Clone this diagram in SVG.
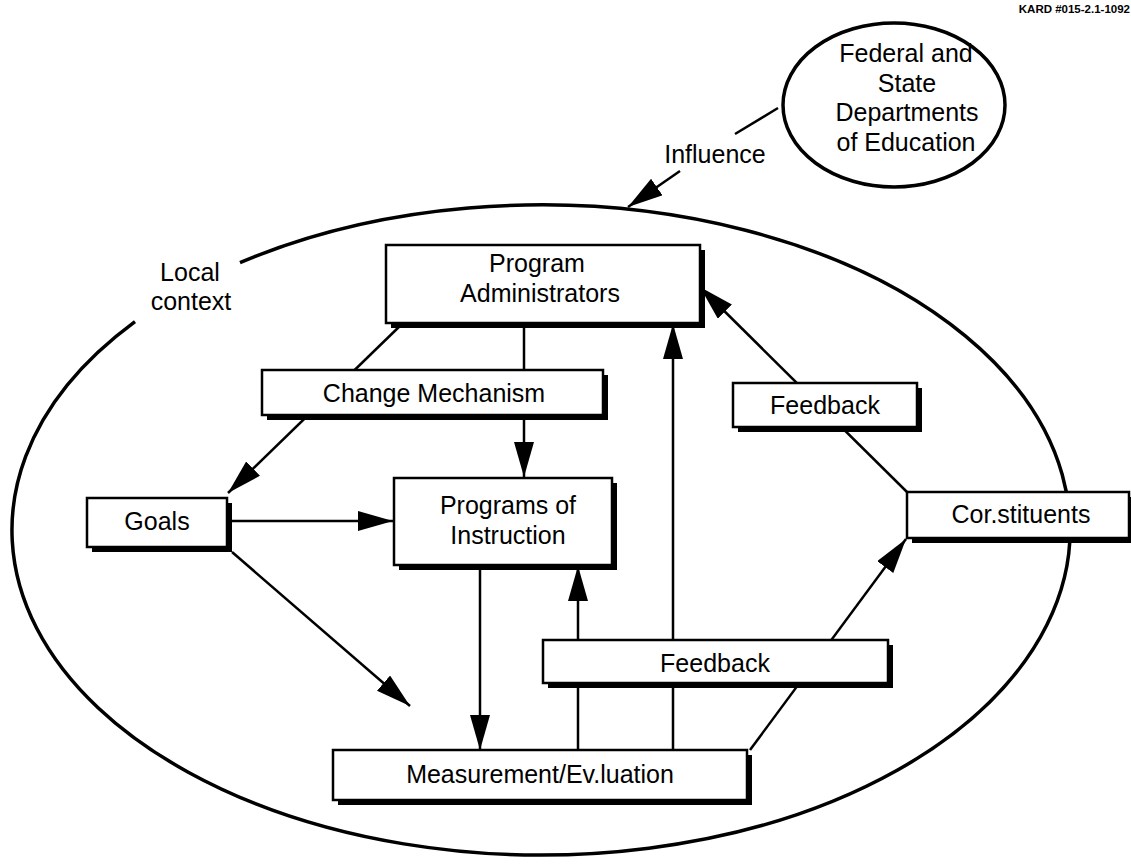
<svg xmlns="http://www.w3.org/2000/svg" width="1131" height="868" viewBox="0 0 1131 868">
<defs>
<style>
.t{font-family:"Liberation Sans",Arial,sans-serif;font-size:25px;fill:#000;text-anchor:middle}
.ln{stroke:#000;stroke-width:2.5;fill:none}
.bx{fill:#fff;stroke:#000;stroke-width:2.5}
.sh{fill:#000}
.ctx{stroke:#000;stroke-width:3.5;fill:none}
</style>
<marker id="ah" markerUnits="userSpaceOnUse" markerWidth="36" markerHeight="22" refX="35" refY="10" orient="auto">
<path d="M0,0 L35,10 L0,20 z" fill="#000"/>
</marker>
</defs>
<rect width="1131" height="868" fill="#fff"/>
<text x="1130" y="13" style="font-family:'Liberation Sans',Arial,sans-serif;font-size:11.5px;font-weight:bold;text-anchor:end">KARD #015-2.1-1092</text>

<g id="local-context">
<path class="ctx" d="M240,262.7 A529,325 0 1 1 135,321.6"/>
<text class="t" x="190" y="281">Local</text>
<text class="t" x="191" y="310">context</text>
</g>

<g id="federal-state">
<ellipse class="ctx" cx="894" cy="105" rx="111" ry="82"/>
<text class="t" x="906" y="62">Federal and</text>
<text class="t" x="907" y="92">State</text>
<text class="t" x="907" y="121">Departments</text>
<text class="t" x="906" y="151">of Education</text>
</g>

<g id="connectors">
<line class="ln" x1="778" y1="108" x2="735" y2="134"/>
<line class="ln" x1="680" y1="171" x2="628" y2="207" marker-end="url(#ah)"/>
<line class="ln" x1="403" y1="323" x2="228" y2="493" marker-end="url(#ah)"/>
<line class="ln" x1="524" y1="323" x2="524" y2="477" marker-end="url(#ah)"/>
<line class="ln" x1="229" y1="521" x2="393" y2="521" marker-end="url(#ah)"/>
<line class="ln" x1="232" y1="552" x2="410" y2="706" marker-end="url(#ah)"/>
<line class="ln" x1="480" y1="565" x2="480" y2="750" marker-end="url(#ah)"/>
<line class="ln" x1="578" y1="750" x2="578" y2="566" marker-end="url(#ah)"/>
<line class="ln" x1="673" y1="750" x2="673" y2="324" marker-end="url(#ah)"/>
<line class="ln" x1="750" y1="750" x2="906" y2="539" marker-end="url(#ah)"/>
<line class="ln" x1="907" y1="492" x2="700" y2="287" marker-end="url(#ah)"/>
<text class="t" x="715" y="163">Influence</text>
</g>

<g id="program-administrators">
<rect class="sh" x="391" y="250" width="314" height="78"/>
<rect class="bx" x="386" y="245" width="314" height="78"/>
<text class="t" x="537" y="272">Program</text>
<text class="t" x="540" y="302">Administrators</text>
</g>

<g id="change-mechanism">
<rect class="sh" x="267" y="375" width="341" height="45"/>
<rect class="bx" x="262" y="370" width="341" height="45"/>
<text class="t" x="434" y="402">Change Mechanism</text>
</g>

<g id="goals">
<rect class="sh" x="92" y="503" width="140" height="49"/>
<rect class="bx" x="87" y="498" width="140" height="49"/>
<text class="t" x="157" y="530">Goals</text>
</g>

<g id="programs-of-instruction">
<rect class="sh" x="399" y="483" width="218" height="87"/>
<rect class="bx" x="394" y="478" width="218" height="87"/>
<text class="t" x="508" y="514">Programs of</text>
<text class="t" x="508" y="544">Instruction</text>
</g>

<g id="feedback-upper">
<rect class="sh" x="738" y="388" width="184" height="44"/>
<rect class="bx" x="733" y="383" width="184" height="44"/>
<text class="t" x="825" y="414">Feedback</text>
</g>

<g id="constituents">
<rect class="sh" x="912" y="497" width="219" height="46"/>
<rect class="bx" x="907" y="492" width="222" height="46"/>
<text class="t" x="1021" y="523">Cor.stituents</text>
</g>

<g id="feedback-lower">
<rect class="sh" x="548" y="645" width="345" height="43"/>
<rect class="bx" x="543" y="640" width="345" height="43"/>
<text class="t" x="715" y="672">Feedback</text>
</g>

<g id="measurement-evaluation">
<rect class="sh" x="338" y="755" width="414" height="50"/>
<rect class="bx" x="333" y="750" width="414" height="50"/>
<text class="t" x="540" y="783">Measurement/Ev.luation</text>
</g>
</svg>
